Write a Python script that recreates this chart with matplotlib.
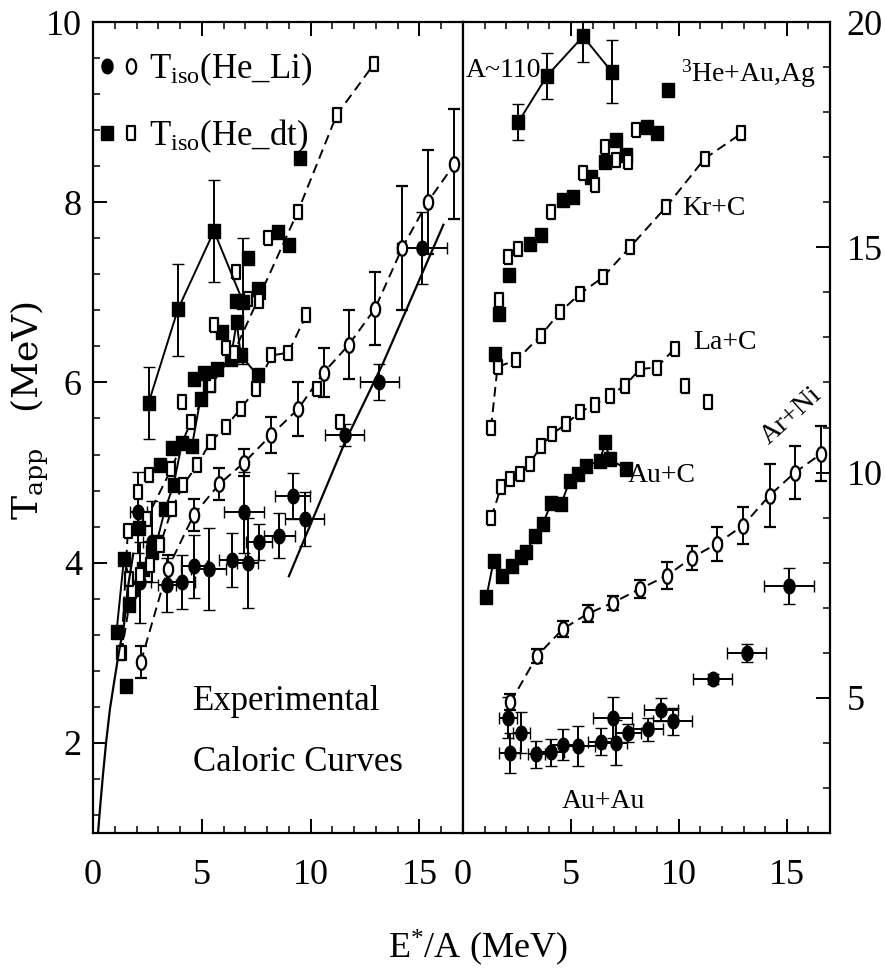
import numpy as np
import matplotlib
matplotlib.use("Agg")
import matplotlib.pyplot as plt
from matplotlib.lines import Line2D
from matplotlib.legend_handler import HandlerTuple
from matplotlib.ticker import MultipleLocator, FixedLocator

plt.rcParams['font.family'] = ['Liberation Serif', 'DejaVu Serif']
plt.rcParams['mathtext.fontset'] = 'custom'
plt.rcParams['mathtext.rm'] = 'Liberation Serif'
plt.rcParams['mathtext.it'] = 'Liberation Serif:italic'
plt.rcParams['mathtext.sf'] = 'DejaVu Serif'

# ---------------- data (true T values; right panel is offset) ----------------
# A~110 (filled squares, solid line)
a110_x = [2.55, 3.90, 5.56, 6.90]
a110_y = [5.77, 6.81, 7.68, 6.89]
a110_elo = [0.40, 0.52, 0.57, 0.69]
a110_ehi = [0.40, 0.50, 0.57, 0.71]

# 3He + Au, Ag
he_f_x = [1.50, 1.67, 2.11, 3.09, 3.63, 4.63, 5.09, 5.94, 6.56, 7.10, 7.56, 8.50, 9.00, 9.49]
he_f_y = [2.63, 3.53, 4.38, 5.08, 5.27, 6.04, 6.11, 6.56, 6.90, 7.38, 7.04, 7.67, 7.53, 8.49]
he_o_x = [1.67, 2.08, 2.55, 4.09, 5.56, 6.10, 6.56, 7.10, 7.64, 8.02]
he_o_y = [3.82, 4.78, 4.97, 5.78, 6.64, 6.38, 7.23, 6.93, 6.90, 7.60]

# Kr + C (open squares, dashed)
kr_x = [1.30, 1.60, 2.47, 3.60, 4.49, 5.42, 6.47, 7.73, 9.40, 11.20, 12.90]
kr_y = [3.00, 4.35, 4.49, 5.04, 5.56, 5.97, 6.33, 7.00, 7.89, 8.97, 9.53]

# La + C (open squares, dashed)
la_x = [1.31, 1.77, 2.16, 2.62, 3.09, 3.63, 4.14, 4.78, 5.40, 6.10, 6.79, 7.50, 8.20, 8.97, 9.80]
la_y = [3.00, 3.69, 3.86, 3.97, 4.20, 4.60, 4.86, 5.08, 5.34, 5.51, 5.71, 5.93, 6.30, 6.33, 6.75]
la_extra_x = [10.30, 11.35]
la_extra_y = [5.93, 5.56]

# Au + C (filled squares, solid)
auc_x = [1.08, 1.42, 1.82, 2.28, 2.70, 2.93, 3.32, 3.70, 4.09, 4.55, 4.94, 5.32, 5.71, 6.33, 6.60, 6.79, 7.56]
auc_y = [3.23, 4.04, 3.71, 3.93, 4.12, 4.23, 4.60, 4.86, 5.33, 5.30, 5.82, 5.97, 6.15, 6.26, 6.67, 6.30, 6.08]

# Ar + Ni (open circles, dashed, error bars)
arni_x = [2.20, 3.43, 4.63, 5.79, 6.94, 8.20, 9.44, 10.60, 11.76, 12.96, 14.20, 15.37, 16.60]
arni_y = [2.90, 3.93, 4.53, 4.87, 5.11, 5.42, 5.71, 6.11, 6.42, 6.82, 7.49, 8.00, 8.42]
arni_err = [0.18, 0.15, 0.18, 0.18, 0.15, 0.20, 0.30, 0.27, 0.38, 0.41, 0.69, 0.58, 0.61]

# Au + Au (filled circles, x and y error bars)
auau_x = [2.08, 2.16, 2.70, 3.40, 4.09, 4.63, 5.32, 6.40, 6.94, 7.10, 7.64, 8.56, 9.18, 9.72, 11.57, 13.15, 15.10]
auau_y = [4.56, 3.78, 4.23, 3.75, 3.79, 3.96, 3.93, 4.03, 4.56, 4.00, 4.23, 4.30, 4.74, 4.48, 5.42, 6.00, 7.49]
auau_xerr = [0.4, 0.5, 0.4, 0.4, 0.6, 0.6, 0.8, 0.6, 0.9, 0.5, 0.6, 0.7, 0.8, 0.9, 0.9, 0.9, 1.15]
auau_yerr = [0.45, 0.45, 0.45, 0.30, 0.30, 0.35, 0.45, 0.30, 0.45, 0.50, 0.20, 0.25, 0.25, 0.30, 0.12, 0.20, 0.40]

# offsets used in the right (stacked) panel
off_a110, off_he, off_kr, off_la, off_auc, off_arni, off_auau = 12, 10, 8, 6, 4, 2, 0

# solid curves in the left panel
fermi_x = [0.23, 0.35, 0.46, 0.60, 0.78, 1.00, 1.20, 1.42, 1.60, 1.85]
fermi_y = [1.00, 1.35, 1.65, 2.00, 2.38, 2.72, 3.02, 3.30, 3.72, 4.10]
lin_x = [9.00, 11.60, 13.30, 16.10]
lin_y = [3.85, 5.35, 6.20, 7.75]

left_xticks = [0, 5, 10, 15]
left_yticks = [2, 4, 6, 8, 10]
right_yticks = [5, 10, 15, 20]

# ---------------- marker shapes ----------------
t = np.linspace(0, 2 * np.pi, 41)
ell_open = list(zip(0.32 * np.cos(t), 0.5 * np.sin(t)))
ell_fill = list(zip(0.38 * np.cos(t), 0.5 * np.sin(t)))
rect_open = [(-0.34, -0.5), (0.34, -0.5), (0.34, 0.5), (-0.34, 0.5), (-0.34, -0.5)]
rect_fill = [(-0.42, -0.5), (0.42, -0.5), (0.42, 0.5), (-0.42, 0.5), (-0.42, -0.5)]

DASH = (0, (5, 3))
LW = 1.4
sq_open = dict(marker=rect_open, ms=9.5, mfc='white', mec='k', mew=1.6)
sq_fill = dict(marker=rect_fill, ms=9.5, mfc='k', mec='k', mew=1.0)
ci_open = dict(marker=ell_open, ms=10.5, mfc='white', mec='k', mew=1.6)
ci_fill = dict(marker=ell_fill, ms=10.5, mfc='k', mec='k', mew=1.0)
EB = dict(elinewidth=1.4, capsize=4, capthick=1.4, ecolor='k')


def sh(vals, o):
    return [v + o for v in vals]


def draw(ax, shifted):
    def o(v):
        return v if shifted else 0

    # Au+Au
    ax.errorbar(auau_x, sh(auau_y, o(off_auau)), xerr=auau_xerr, yerr=auau_yerr,
                ls='none', color='k', zorder=3, **EB, **ci_fill)
    # Ar+Ni
    ax.errorbar(arni_x, sh(arni_y, o(off_arni)), yerr=arni_err, color='k',
                ls=DASH, lw=LW, zorder=4, **EB, **ci_open)
    # Au+C
    ax.plot(auc_x, sh(auc_y, o(off_auc)), color='k', lw=LW, zorder=4, **sq_fill)
    # La+C
    ax.plot(la_x, sh(la_y, o(off_la)), color='k', ls=DASH, lw=LW, zorder=5, **sq_open)
    ax.plot(la_extra_x, sh(la_extra_y, o(off_la)), ls='none', zorder=5, **sq_open)
    # Kr+C
    ax.plot(kr_x, sh(kr_y, o(off_kr)), color='k', ls=DASH, lw=LW, zorder=5, **sq_open)
    # 3He
    ax.plot(he_f_x, sh(he_f_y, o(off_he)), ls='none', zorder=6, **sq_fill)
    ax.plot(he_o_x, sh(he_o_y, o(off_he)), ls='none', zorder=6, **sq_open)
    # A~110
    ax.errorbar(a110_x, sh(a110_y, o(off_a110)), yerr=[a110_elo, a110_ehi],
                color='k', ls='-', lw=LW, zorder=6, **EB, **sq_fill)


fig = plt.figure(figsize=(8.85, 9.68), dpi=100)
W, H = 885.0, 968.0
axL = fig.add_axes([93 / W, (H - 833) / H, 370 / W, 811 / H])
axR = fig.add_axes([463 / W, (H - 833) / H, 367 / W, 811 / H])

draw(axL, False)
draw(axR, True)
axL.plot(fermi_x, fermi_y, color='k', lw=1.6, zorder=7)
axL.plot(lin_x, lin_y, color='k', lw=1.6, zorder=7)

axL.set_xlim(0, 17)
axL.set_ylim(1, 10)
axR.set_xlim(0, 17)
axR.set_ylim(2, 20)

for ax in (axL, axR):
    for s in ax.spines.values():
        s.set_linewidth(1.6)
    ax.xaxis.set_major_locator(FixedLocator(left_xticks))
    ax.xaxis.set_minor_locator(MultipleLocator(1))
    ax.tick_params(which='major', direction='in', length=10, width=1.4,
                   labelsize=26, top=True)
    ax.tick_params(which='minor', direction='in', length=5, width=1.1, top=True)
    ax.tick_params(axis='x', which='major', pad=19)

axL.yaxis.set_major_locator(FixedLocator(left_yticks))
axL.yaxis.set_minor_locator(MultipleLocator(0.4))
axL.tick_params(axis='y', which='both', left=True, right=False)
axL.tick_params(axis='y', which='major', pad=8)

axR.yaxis.tick_right()
axR.yaxis.set_major_locator(FixedLocator(right_yticks))
axR.yaxis.set_minor_locator(MultipleLocator(1))
axR.tick_params(axis='y', which='both', left=False, right=True)
axR.tick_params(axis='y', which='major', pad=12)

# legend
h_cf = Line2D([], [], ls='none', color='k', **ci_fill)
h_co = Line2D([], [], ls='none', color='k', **ci_open)
h_sf = Line2D([], [], ls='none', color='k', **sq_fill)
h_so = Line2D([], [], ls='none', color='k', **sq_open)
axL.legend([(h_cf, h_co), (h_sf, h_so)],
           [r'T$_{\rm iso}$(He_Li)', r'T$_{\rm iso}$(He_dt)'],
           handler_map={tuple: HandlerTuple(ndivide=None, pad=0.0)},
           loc='upper left', bbox_to_anchor=(0.005, 0.965), frameon=False,
           fontsize=25, handlelength=1.4, handletextpad=0.15,
           borderaxespad=0.0, borderpad=0.0, labelspacing=0.85)

# in-plot labels
axL.text(4.59, 2.46, 'Experimental', fontsize=25, ha='left', va='center')
axL.text(4.59, 1.78, 'Caloric Curves', fontsize=25, ha='left', va='center')

axR.text(0.12, 18.93, 'A~110', fontsize=20, ha='left', va='center')
axR.text(10.1, 18.85, r'$^{3}$He+Au,Ag', fontsize=20, ha='left', va='center')
axR.text(10.14, 15.87, 'Kr+C', fontsize=20, ha='left', va='center')
axR.text(10.65, 12.89, 'La+C', fontsize=20, ha='left', va='center')
axR.text(7.64, 9.93, 'Au+C', fontsize=20, ha='left', va='center')
axR.text(15.2, 11.27, 'Ar+Ni', fontsize=20, ha='center', va='center', rotation=42)
axR.text(4.58, 2.71, 'Au+Au', fontsize=20, ha='left', va='center')

# axis titles
fig.text(30 / W, 1 - 410 / H, r'$\mathsf{T_{app}}$   (MeV)', rotation=90,
         family='DejaVu Serif', fontsize=26, ha='center', va='center')
fig.text(478 / W, 1 - 948 / H, r'E$^{*}$/A (MeV)', fontsize=26, ha='center', va='center')

fig.savefig('out.png', dpi=100)
